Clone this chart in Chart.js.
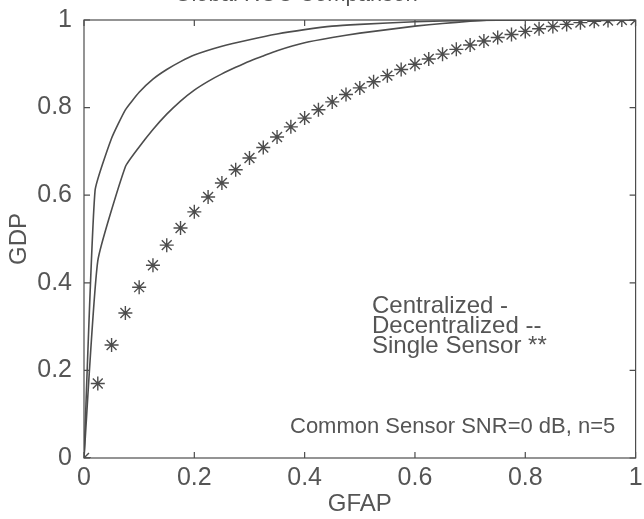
<!DOCTYPE html>
<html>
<head>
<meta charset="utf-8">
<script src="https://cdn.jsdelivr.net/npm/chart.js@4.4.0/dist/chart.umd.min.js"></script>
<style>
  html, body { margin: 0; padding: 0; background: #fff; }
  #wrap { width: 644px; height: 519px; position: relative; }
</style>
</head>
<body>
<div id="wrap"><canvas id="roc"></canvas></div>
<script>
// ROC comparison: centralized vs decentralized vs single sensor

const gfapCentral = [0, 0.02, 0.05, 0.075, 0.1, 0.125, 0.15, 0.175, 0.2, 0.25, 0.3, 0.35, 0.4, 0.45, 0.5, 0.6, 0.7, 0.8, 1];
const gdpCentral  = [0, 0.61, 0.73, 0.795, 0.835, 0.865, 0.887, 0.905, 0.92, 0.94, 0.955, 0.968, 0.978, 0.986, 0.99, 0.996, 0.999, 1, 1];

const gfapDecentral = [0, 0.025, 0.075, 0.1, 0.125, 0.15, 0.175, 0.2, 0.225, 0.25, 0.275, 0.3, 0.325, 0.35, 0.4, 0.45, 0.5, 0.55, 0.6, 0.65, 0.7, 0.75, 1];
const gdpDecentral  = [0, 0.45, 0.665, 0.71, 0.75, 0.785, 0.815, 0.84, 0.86, 0.877, 0.892, 0.906, 0.918, 0.93, 0.948, 0.96, 0.97, 0.978, 0.986, 0.992, 0.997, 1, 1];

const gfapSingle = [0, 0.025, 0.05, 0.075, 0.1, 0.125, 0.15, 0.175, 0.2, 0.225, 0.25, 0.275, 0.3, 0.325, 0.35, 0.375, 0.4, 0.425, 0.45, 0.475, 0.5,
                    0.525, 0.55, 0.575, 0.6, 0.625, 0.65, 0.675, 0.7, 0.725, 0.75, 0.775, 0.8, 0.825, 0.85, 0.875, 0.9, 0.925, 0.95, 0.975, 1];
const gdpSingle  = [0, 0.17, 0.258, 0.331, 0.39, 0.44, 0.486, 0.525, 0.562, 0.596, 0.628, 0.658, 0.685, 0.709, 0.733, 0.756, 0.776, 0.795, 0.813, 0.83, 0.845,
                    0.859, 0.873, 0.887, 0.899, 0.911, 0.922, 0.933, 0.943, 0.952, 0.96, 0.967, 0.974, 0.98, 0.985, 0.99, 0.994, 0.997, 0.999, 1, 1];

const axisTicks = [0, 0.2, 0.4, 0.6, 0.8, 1];
const legendLines = ['Centralized -', 'Decentralized --', 'Single Sensor **'];
const noteText = 'Common Sensor SNR=0 dB, n=5';
const titleText = 'Global ROC Comparison';

const ink = '#4d4d4d';
const textInk = '#555';
const fontFam = '"Liberation Sans", Arial, sans-serif';

const pts = (xs, ys) => xs.map((x, i) => ({ x: x, y: ys[i] }));

// box, inward ticks and text annotations (MATLAB style)
const matlabFrame = {
    id: 'matlabFrame',
    afterDraw(chart) {
        const { ctx, chartArea: { left, right, top, bottom } } = chart;
        const sx = chart.scales.x, sy = chart.scales.y;
        ctx.save();
        ctx.strokeStyle = ink;
        ctx.lineWidth = 1.2;
        ctx.strokeRect(left, top, right - left, bottom - top);
        ctx.beginPath();
        axisTicks.forEach(v => {
            const px = sx.getPixelForValue(v), py = sy.getPixelForValue(v);
            ctx.moveTo(px, bottom); ctx.lineTo(px, bottom - 6);
            ctx.moveTo(px, top); ctx.lineTo(px, top + 6);
            ctx.moveTo(left, py); ctx.lineTo(left + 6, py);
            ctx.moveTo(right, py); ctx.lineTo(right - 6, py);
        });
        ctx.stroke();

        ctx.fillStyle = textInk;
        ctx.textAlign = 'left';
        ctx.textBaseline = 'alphabetic';
        ctx.font = '24px ' + fontFam;
        legendLines.forEach((t, i) => ctx.fillText(t, 372, 313 + i * 20));
        ctx.font = '22px ' + fontFam;
        ctx.fillText(noteText, 290, 433);
        // title is mostly cut off by the top edge in the source
        ctx.textAlign = 'center';
        ctx.fillText(titleText, 296, 1);
        ctx.restore();
    }
};

const fmtTick = v => String(Math.round(v * 10) / 10);

new Chart(document.getElementById('roc'), {
    type: 'scatter',
    data: {
        datasets: [
            { label: 'Centralized', data: pts(gfapCentral, gdpCentral), showLine: true,
              borderColor: ink, borderWidth: 1.6, pointRadius: 0, tension: 0.15, fill: false },
            { label: 'Decentralized', data: pts(gfapDecentral, gdpDecentral), showLine: true,
              borderColor: ink, borderWidth: 1.6, pointRadius: 0, tension: 0.15, fill: false },
            { label: 'Single Sensor', data: pts(gfapSingle, gdpSingle), showLine: false,
              pointStyle: 'star', pointRadius: 7, borderColor: ink, borderWidth: 1.4,
              backgroundColor: ink }
        ]
    },
    options: {
        responsive: true,
        maintainAspectRatio: false,
        animation: false,
        layout: { padding: { top: 20, right: 6, left: 0, bottom: 0 } },
        plugins: { legend: { display: false }, tooltip: { enabled: false } },
        scales: {
            x: {
                type: 'linear', min: 0, max: 1,
                afterFit: s => { s.height = 61; s.paddingLeft = 0; s.paddingRight = 0; },
                afterBuildTicks: s => { s.ticks = axisTicks.map(v => ({ value: v })); },
                ticks: { color: textInk, font: { size: 25, family: fontFam }, padding: 5, maxRotation: 0, callback: fmtTick },
                grid: { display: false, drawTicks: false },
                border: { display: false },
                title: { display: true, text: 'GFAP', color: textInk, font: { size: 24, family: fontFam }, padding: { top: 0, bottom: 0 } }
            },
            y: {
                type: 'linear', min: 0, max: 1,
                afterFit: s => { s.width = 84; s.paddingTop = 0; s.paddingBottom = 0; },
                afterBuildTicks: s => { s.ticks = axisTicks.map(v => ({ value: v })); },
                ticks: { color: textInk, font: { size: 25, family: fontFam }, padding: 12, callback: fmtTick },
                grid: { display: false, drawTicks: false },
                border: { display: false },
                title: { display: true, text: 'GDP', color: textInk, font: { size: 24, family: fontFam }, padding: { top: 5, bottom: 0 } }
            }
        }
    },
    plugins: [matlabFrame]
});
</script>
</body>
</html>
